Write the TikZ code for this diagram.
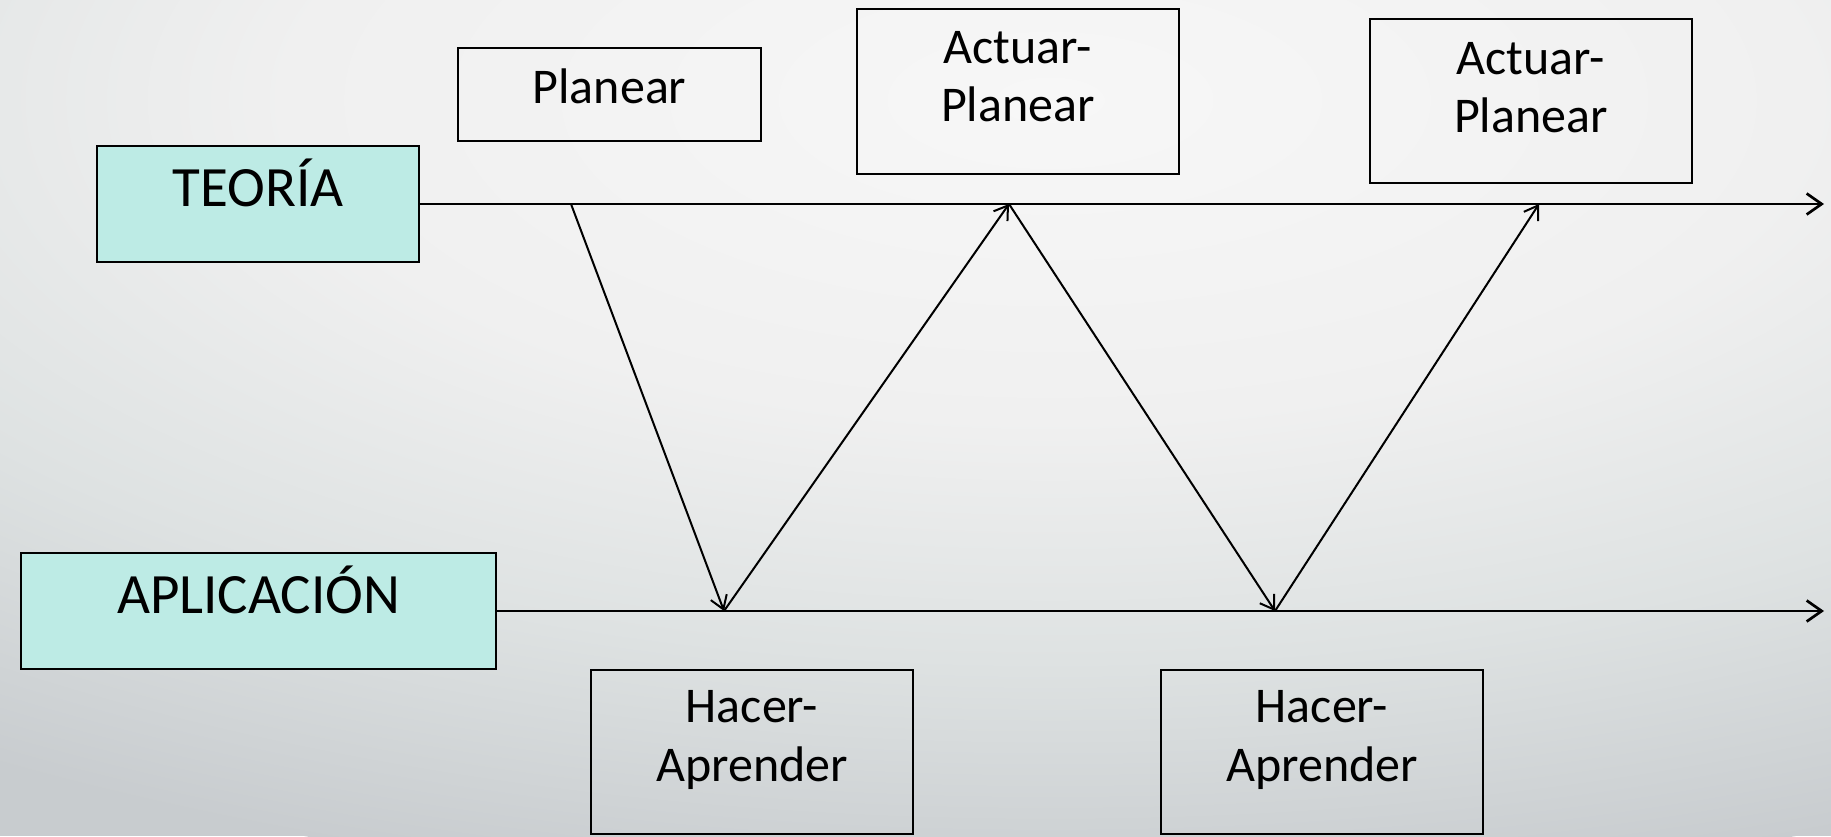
\documentclass[tikz,border=0pt]{standalone}
\usepackage{fontspec}
\setmainfont{Carlito}
\usetikzlibrary{arrows.meta,calc}

\definecolor{boxteal}{HTML}{BDEBE5}
\definecolor{bgA}{HTML}{F7F7F7}
\definecolor{bgB}{HTML}{F0F0F0}
\definecolor{bgC}{HTML}{DEE2E2}
\definecolor{bgD}{HTML}{C8CCCF}
% the path's bounding box spans 25bp..75bp, so the rim of the shaded shape is at 25bp
\pgfdeclareradialshading{backdrop}{\pgfpoint{0bp}{0bp}}%
  {color(0bp)=(bgA); color(10bp)=(bgB); color(17.5bp)=(bgC); color(25bp)=(bgD); color(50bp)=(bgD)}

% two centred lines whose baseline is the first line's baseline
\newcommand\twolines[2]{\parbox[t]{200pt}{\centering #1\\#2}}

\begin{document}
\begin{tikzpicture}[x=0.5pt,y=-0.5pt,
  box/.style={draw=black, line width=1pt, inner sep=0pt, outer sep=0pt},
  stagebox/.style={box, fill=boxteal, minimum height=58pt},
  notebox/.style={box, minimum width=161pt},
  biglbl/.style={inner sep=0pt, anchor=base, font=\fontsize{28.5}{33}\selectfont},
  lbl/.style={inner sep=0pt, anchor=base, font=\fontsize{25}{29.2}\selectfont},
  axis/.style={line width=1.35pt, -{Straight Barb[length=7.5pt,width=10.5pt]}},
  conn/.style={line width=1pt, -{Straight Barb[length=6.5pt,width=8.5pt]}}
]
\useasboundingbox (0,0) rectangle (1831,836);

% backdrop
\begin{scope}
  \clip (0,0) rectangle (1831,836);
  \fill[bgD] (0,0) rectangle (1831,836);
  \shade[shading=backdrop] (1050,100) ellipse [x radius=950pt, y radius=400pt];
\end{scope}

% the two levels
\node[stagebox, minimum width=161pt] (teoria) at (258,204) {};
\node[stagebox, minimum width=237.5pt] (aplic) at (258.5,611) {};
\node[biglbl] (teoria-t) at ($(teoria.north)+(0,60)$) {TEORÍA};
\node[biglbl] (aplic-t) at ($(aplic.north)+(0,60)$) {APLICACIÓN};

% notes above and below the axes
\node[box, minimum width=151.5pt, minimum height=46.5pt] (plan) at (609.5,94.5) {};
\node[notebox, minimum height=82.5pt] (ap1) at (1018,91.5) {};
\node[notebox, minimum height=82pt] (ap2) at (1531,101) {};
\node[notebox, minimum height=82pt] (ha1) at (752,752) {};
\node[notebox, minimum height=82pt] (ha2) at (1322,752) {};

\node[lbl] (plan-t) at ($(plan.north)+(0,55.4)$) {Planear};
\node[lbl] (ap1-t) at ($(ap1.north)+(0,54.5)$) {\twolines{Actuar-}{Planear}};
\node[lbl] (ap2-t) at ($(ap2.north)+(0,55)$) {\twolines{Actuar-}{Planear}};
\node[lbl] (ha1-t) at ($(ha1.north)+(0,52.7)$) {\twolines{Hacer-}{Aprender}};
\node[lbl] (ha2-t) at ($(ha2.north)+(0,52.7)$) {\twolines{Hacer-}{Aprender}};

% turning points on the axes
\coordinate (p1) at (571,0 |- teoria.east);
\coordinate (p2) at (1009,0 |- teoria.east);
\coordinate (p3) at (1539,0 |- teoria.east);
\coordinate (q1) at (724,0 |- aplic.east);
\coordinate (q2) at (1275,0 |- aplic.east);
\coordinate (tend) at (1824,0 |- teoria.east);
\coordinate (aend) at (1824,0 |- aplic.east);

% axes
\draw[axis] (teoria.east) -- (tend);
\draw[axis] (aplic.east) -- (aend);

% zig-zag between theory and practice
\draw[conn] (p1) -- (q1);
\draw[conn] (q1) -- (p2);
\draw[conn] (p2) -- (q2);
\draw[conn] (q2) -- (p3);
\end{tikzpicture}
\end{document}
